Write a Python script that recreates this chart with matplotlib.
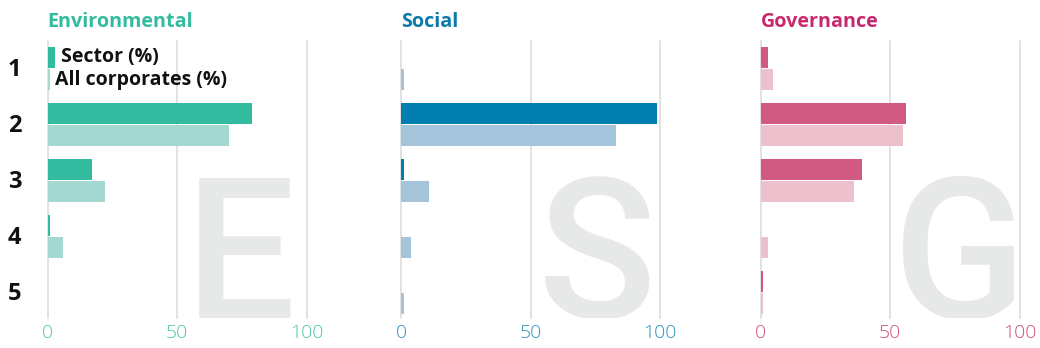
import numpy as np
import matplotlib
matplotlib.use("Agg")
import matplotlib.pyplot as plt

rows = ["1", "2", "3", "4", "5"]
panels = ["Environmental", "Social", "Governance"]
letters = ["E", "S", "G"]

env_sector = [3, 79, 17, 1, 0]
env_all = [1, 70, 22, 6, 0]
soc_sector = [0, 99, 1, 0, 0]
soc_all = [1, 83, 11, 4, 1]
gov_sector = [3, 56, 39, 0, 1]
gov_all = [5, 55, 36, 3, 1]

sector_vals = [env_sector, soc_sector, gov_sector]
all_vals = [env_all, soc_all, gov_all]

dark = ["#33bba0", "#007eb0", "#d05a82"]
light = ["#a3d9d1", "#a3c4da", "#ecc1cc"]
title_col = ["#33bba0", "#0a7aaa", "#c8296c"]
tick_col = ["#4fc6aa", "#2b93c0", "#cf4d82"]

W, H = 1040, 348
fig = plt.figure(figsize=(W / 100, H / 100), dpi=100)

lefts = [47.7, 401.0, 760.5]
span = 259.0
top_px, bot_px = 40.7, 318.0
y = np.arange(1, 6)
bh = 0.37
letter_x = [53.0, 52.7, 51.2]

for i in range(3):
    ax = fig.add_axes([lefts[i] / W, 1 - bot_px / H, span / W, (bot_px - top_px) / H])
    ax.set_xlim(0, 100)
    ax.set_ylim(5.455, 0.504)
    ax.axis("off")
    for g in (0, 50, 100):
        ax.axvline(g, color="#dddddd", lw=1.2, zorder=1, clip_on=False)
        ax.text(g, 5.455 + 0.27, str(g), ha="center", va="center", fontsize=14,
                family="Open Sans", fontweight="light", color=tick_col[i])
    # big faded letter behind the bars, cut at the bottom of the panel
    ax.text(letter_x[i], 5.455, letters[i], fontsize=141, family="Roboto",
            fontweight="medium", color="#e7e8e8", ha="left", va="baseline",
            zorder=0, clip_on=True)
    ax.barh(y - 0.2, sector_vals[i], height=bh, color=dark[i], zorder=2)
    ax.barh(y + 0.2, all_vals[i], height=bh, color=light[i], zorder=2)
    fig.text(lefts[i] / W, 1 - 26.7 / H, panels[i], fontsize=14.2, family="Open Sans",
             fontweight="bold", color=title_col[i], va="baseline", ha="left")
    if i == 0:
        ax.text(sector_vals[0][0] + 2.2, 1 - 0.2, "Sector (%)", fontsize=14,
                family="Open Sans", fontweight="bold", color="#111111", va="center")
        ax.text(all_vals[0][0] + 2.0, 1 + 0.2, "All corporates (%)", fontsize=14,
                family="Open Sans", fontweight="bold", color="#111111", va="center")

for k, r in enumerate(rows):
    yc = 68.5 + 56 * k + 1.5
    fig.text(14.5 / W, 1 - yc / H, r, fontsize=17, family="Open Sans", fontweight="bold",
             color="#111111", ha="center", va="center")

fig.savefig("out.png", dpi=100)
